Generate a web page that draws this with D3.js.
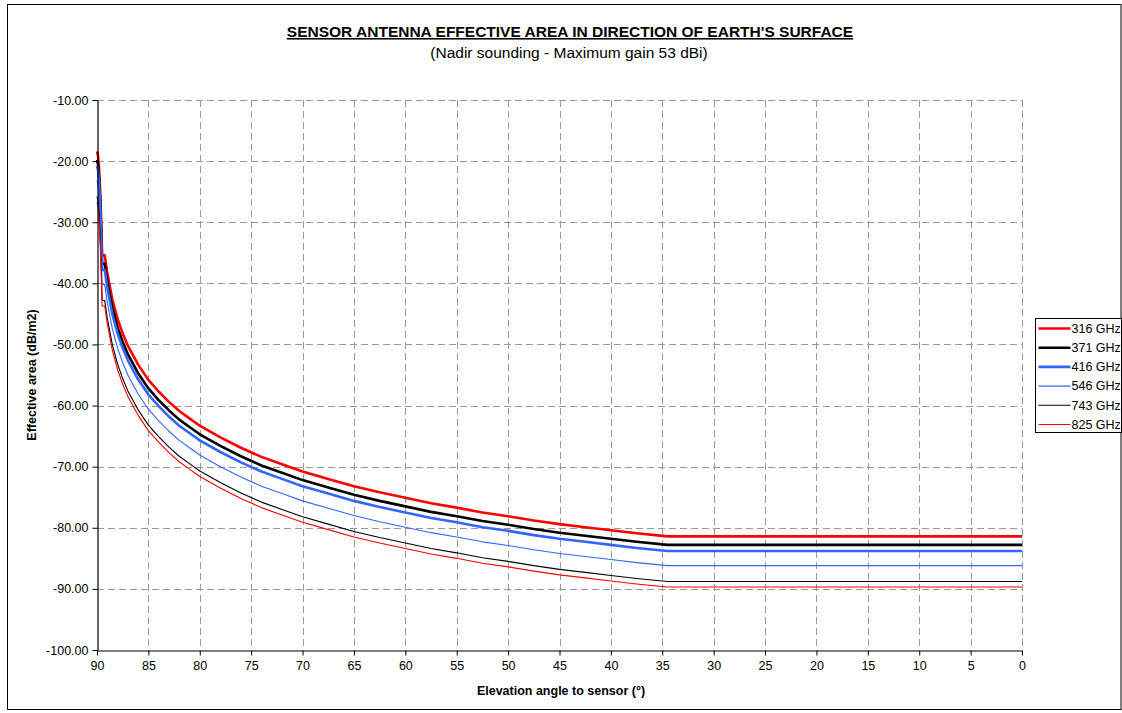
<!DOCTYPE html>
<html>
<head>
<meta charset="utf-8">
<script src="https://cdn.jsdelivr.net/npm/d3@7"></script>
<style>
  body { margin: 0; background: #fff; }
  text { font-family: 'Liberation Sans', Arial, sans-serif; }
</style>
</head>
<body>
<div class="graph"><svg id="chart"></svg></div>
<script>
// elevation angle (deg) at which each value was read
const elevation = [90, 89.9, 89.8, 89.7, 89.6, 89.5, 89.25, 89, 88.5, 88, 87.5, 87, 86, 85, 84, 83, 82, 81, 80,
  78, 76, 74, 72, 70, 67.5, 65, 62.5, 60, 57.5, 55, 52.5, 50, 47.5, 45, 42.5, 40, 37.5, 34.5, 0]

const ghz316 = [-18.4, -19.1, -21.2, -24.6, -29.4, -35.4, -35.4, -38.3, -42.7, -45.8, -48.2, -50.2, -53.3, -55.8, -57.7, -59.4, -60.9, -62.1, -63.3,
  -65.2, -66.9, -68.4, -69.6, -70.8, -72.0, -73.2, -74.2, -75.1, -76.0, -76.7, -77.5, -78.1, -78.8, -79.4, -79.9, -80.4, -80.9, -81.4, -81.4]
const ghz371 = [-19.8, -20.5, -22.6, -26.0, -30.8, -36.8, -36.8, -39.7, -44.1, -47.2, -49.6, -51.6, -54.7, -57.2, -59.1, -60.8, -62.3, -63.5, -64.7,
  -66.6, -68.3, -69.8, -71.0, -72.2, -73.4, -74.6, -75.6, -76.5, -77.4, -78.1, -78.9, -79.5, -80.2, -80.8, -81.3, -81.8, -82.3, -82.8, -82.8]
const ghz416 = [-20.8, -21.5, -23.6, -27.0, -31.8, -37.8, -37.8, -40.7, -45.1, -48.2, -50.6, -52.6, -55.7, -58.2, -60.1, -61.8, -63.3, -64.5, -65.7,
  -67.6, -69.3, -70.8, -72.0, -73.2, -74.4, -75.6, -76.6, -77.5, -78.4, -79.1, -79.9, -80.5, -81.2, -81.8, -82.3, -82.8, -83.3, -83.8, -83.8]
const ghz546 = [-23.2, -23.9, -26.0, -29.4, -34.2, -40.2, -40.2, -43.1, -47.5, -50.6, -53.0, -55.0, -58.1, -60.6, -62.5, -64.2, -65.7, -66.9, -68.1,
  -70.0, -71.7, -73.2, -74.4, -75.6, -76.8, -78.0, -79.0, -79.9, -80.8, -81.5, -82.3, -82.9, -83.6, -84.2, -84.7, -85.2, -85.7, -86.2, -86.2]
const ghz743 = [-25.8, -26.5, -28.6, -32.0, -36.8, -42.8, -42.8, -45.7, -50.1, -53.2, -55.6, -57.6, -60.7, -63.2, -65.1, -66.8, -68.3, -69.5, -70.7,
  -72.6, -74.3, -75.8, -77.0, -78.2, -79.4, -80.6, -81.6, -82.5, -83.4, -84.1, -84.9, -85.5, -86.2, -86.8, -87.3, -87.8, -88.3, -88.8, -88.8]
const ghz825 = [-26.7, -27.4, -29.5, -32.9, -37.7, -43.7, -43.7, -46.6, -51.0, -54.1, -56.5, -58.5, -61.6, -64.1, -66.0, -67.7, -69.2, -70.4, -71.6,
  -73.5, -75.2, -76.7, -77.9, -79.1, -80.3, -81.5, -82.5, -83.4, -84.3, -85.0, -85.8, -86.4, -87.1, -87.7, -88.2, -88.7, -89.2, -89.7, -89.7]

const seriesNames = ['316 GHz', '371 GHz', '416 GHz', '546 GHz', '743 GHz', '825 GHz']
const seriesValues = [ghz316, ghz371, ghz416, ghz546, ghz743, ghz825]

const xTicks = [90, 85, 80, 75, 70, 65, 60, 55, 50, 45, 40, 35, 30, 25, 20, 15, 10, 5, 0]
const yTicks = [-10, -20, -30, -40, -50, -60, -70, -80, -90, -100]

const styles = [
  { color: '#ff0000', width: 2.6 },
  { color: '#000000', width: 2.6 },
  { color: '#3366ff', width: 2.6 },
  { color: '#3366ff', width: 1.1 },
  { color: '#000000', width: 1.1 },
  { color: '#ff0000', width: 1.1 }
]

const width = 1122
const height = 713
const plot = { left: 97, right: 1022, top: 100, bottom: 650 }

const svg = d3.select('#chart')
  .attr('width', width)
  .attr('height', height)

// chart frame
svg.append('rect')
  .attr('x', 7.5)
  .attr('y', 4.5)
  .attr('width', 1113.5)
  .attr('height', 705)
  .attr('fill', '#fff')
  .attr('stroke', '#000')
  .attr('stroke-width', 1)

const x = d3.scaleLinear().domain([90, 0]).range([plot.left, plot.right])
const y = d3.scaleLinear().domain([-100, -10]).range([plot.bottom, plot.top])

// dashed grid
const grid = svg.append('g').attr('class', 'grid')
  .attr('stroke', '#999')
  .attr('stroke-dasharray', '7,4')
  .attr('stroke-width', 1)

grid.selectAll('.gx')
  .data(xTicks.filter(d => d !== 90))
  .join('line')
  .attr('x1', d => Math.round(x(d)) + 0.5)
  .attr('x2', d => Math.round(x(d)) + 0.5)
  .attr('y1', plot.top)
  .attr('y2', plot.bottom)

grid.selectAll('.gy')
  .data(yTicks.filter(d => d !== -100))
  .join('line')
  .attr('x1', plot.left)
  .attr('x2', plot.right)
  .attr('y1', d => Math.round(y(d)) + 0.5)
  .attr('y2', d => Math.round(y(d)) + 0.5)

// series
const line = d3.line()
  .x((d, i) => x(elevation[i]))
  .y(d => y(d))

svg.append('g').attr('class', 'series')
  .selectAll('path')
  .data(seriesValues)
  .join('path')
  .attr('fill', 'none')
  .attr('stroke', (d, i) => styles[i].color)
  .attr('stroke-width', (d, i) => styles[i].width)
  .attr('stroke-linejoin', 'round')
  .attr('d', line)

// axes
const yAxis = svg.append('g')
  .attr('transform', 'translate(' + (plot.left + 0.5) + ',0)')
  .call(d3.axisLeft(y).tickValues(yTicks).tickFormat(d => d.toFixed(2)).tickSize(5).tickSizeOuter(0))
const xAxis = svg.append('g')
  .attr('transform', 'translate(0,' + (plot.bottom + 0.5) + ')')
  .call(d3.axisBottom(x).tickValues(xTicks).tickSize(5).tickSizeOuter(0))

for (const ax of [xAxis, yAxis]) {
  ax.select('.domain').attr('stroke', '#000').attr('stroke-width', 1.2)
  ax.selectAll('.tick line').attr('stroke', '#000')
  ax.selectAll('.tick text')
    .attr('font-family', "'Liberation Sans', Arial, sans-serif")
    .attr('font-size', '12.5px')
    .attr('fill', '#000')
}
yAxis.selectAll('.tick text').attr('x', -9)
xAxis.selectAll('.tick text').attr('y', 11)

// titles
svg.append('text')
  .attr('x', 570)
  .attr('y', 37)
  .attr('text-anchor', 'middle')
  .attr('font-size', '15.5px')
  .attr('font-weight', 'bold')
  .attr('text-decoration', 'underline')
  .text("SENSOR ANTENNA EFFECTIVE AREA IN DIRECTION OF EARTH'S SURFACE")

svg.append('text')
  .attr('x', 569)
  .attr('y', 58)
  .attr('text-anchor', 'middle')
  .attr('font-size', '15.5px')
  .text('(Nadir sounding - Maximum gain 53 dBi)')

svg.append('text')
  .attr('x', 561)
  .attr('y', 695)
  .attr('text-anchor', 'middle')
  .attr('font-size', '12.5px')
  .attr('font-weight', 'bold')
  .text('Elevation angle to sensor (°)')

svg.append('text')
  .attr('transform', 'translate(36,375) rotate(-90)')
  .attr('text-anchor', 'middle')
  .attr('font-size', '12.5px')
  .attr('font-weight', 'bold')
  .text('Effective area (dB/m2)')

// legend
const legend = svg.append('g').attr('class', 'legend')
  .attr('transform', 'translate(1035.5,318.5)')

legend.append('rect')
  .attr('width', 86)
  .attr('height', 114)
  .attr('fill', '#fff')
  .attr('stroke', '#000')

const item = legend.selectAll('.item')
  .data(seriesNames)
  .join('g')
  .attr('transform', (d, i) => 'translate(0,' + (10 + i * 19.2) + ')')

item.append('line')
  .attr('x1', 3)
  .attr('x2', 35)
  .attr('stroke', (d, i) => styles[i].color)
  .attr('stroke-width', (d, i) => styles[i].width)

item.append('text')
  .attr('x', 36)
  .attr('dy', '0.35em')
  .attr('font-size', '12.5px')
  .text(d => d)
</script>
</body>
</html>
